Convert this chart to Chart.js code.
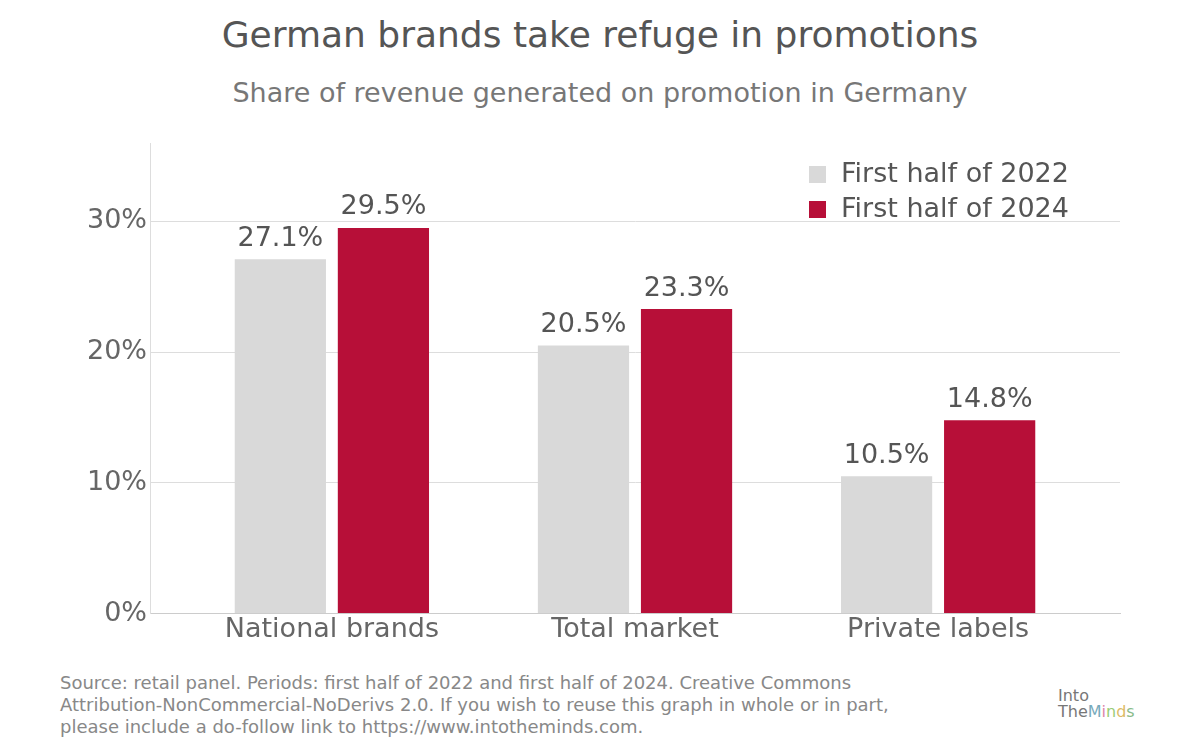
<!DOCTYPE html>
<html><head><meta charset="UTF-8">
<script src="https://cdn.jsdelivr.net/npm/chart.js@4"></script>
<style>
body{margin:0;width:1200px;height:755px;background:#fff;font-family:"DejaVu Sans",sans-serif;position:relative;overflow:hidden}
#t{position:absolute;top:14px;width:100%;text-align:center;font-size:36px;color:#555}
#s{position:absolute;top:77px;width:100%;text-align:center;font-size:27px;color:#777}
#wrap{position:absolute;left:0;top:120px;width:1200px;height:540px}
#f{position:absolute;left:60px;top:672px;font-size:18px;line-height:22px;color:#888}
#logo{position:absolute;left:1058px;top:688px;font-size:16px;line-height:16px;color:#777}
</style></head><body>
<div id="t">German brands take refuge in promotions</div>
<div id="s">Share of revenue generated on promotion in Germany</div>
<div id="wrap"><canvas id="c"></canvas></div>
<div id="f">Source: retail panel. Periods: first half of 2022 and first half of 2024. Creative Commons<br>Attribution-NonCommercial-NoDerivs 2.0. If you wish to reuse this graph in whole or in part,<br>please include a do-follow link to https://www.intotheminds.com.</div>
<div id="logo">Into<br>The<span style="color:#7ab">M</span><span style="color:#d8a">i</span><span style="color:#9c7">n</span><span style="color:#db6">d</span><span style="color:#8b8">s</span></div>
<script>
const categories = ["National brands", "Total market", "Private labels"];
const labels2022 = "First half of 2022";
const labels2024 = "First half of 2024";
const values2022 = [27.1, 20.5, 10.5];
const values2024 = [29.5, 23.3, 14.8];
const yTicks = [0, 10, 20, 30];

const valueLabels = {
  id: "valueLabels",
  afterDatasetsDraw(chart) {
    const ctx = chart.ctx;
    ctx.save();
    ctx.font = "27px 'DejaVu Sans'";
    ctx.fillStyle = "#555";
    ctx.textAlign = "center";
    ctx.textBaseline = "bottom";
    chart.data.datasets.forEach((ds, i) => {
      chart.getDatasetMeta(i).data.forEach((bar, j) => {
        ctx.fillText(ds.data[j].y.toFixed(1) + "%", bar.x, bar.y - 7);
      });
    });
    ctx.restore();
  },
};

const boxLegend = {
  id: "boxLegend",
  afterDraw(chart) {
    const ctx = chart.ctx;
    ctx.save();
    ctx.font = "27px 'DejaVu Sans'";
    ctx.textBaseline = "middle";
    chart.data.datasets.forEach((ds, i) => {
      const y = 55 + i * 35;
      ctx.fillStyle = ds.backgroundColor;
      ctx.fillRect(809, y - 9, 17, 17);
      ctx.fillStyle = "#555";
      ctx.fillText(ds.label, 841, y);
    });
    ctx.restore();
  },
};

const toPoints = (vals) => vals.map((y, i) => ({ x: i, y }));

new Chart(document.getElementById("c"), {
  type: "bar",
  data: {
    datasets: [
      { label: labels2022, data: toPoints(values2022), backgroundColor: "#d9d9d9" },
      { label: labels2024, data: toPoints(values2024), backgroundColor: "#b70f38" },
    ],
  },
  options: {
    responsive: true,
    maintainAspectRatio: false,
    animation: false,
    layout: { padding: { top: 23, left: 84, right: 80, bottom: 14 } },
    datasets: { bar: { categoryPercentage: 0.68, barPercentage: 0.885 } },
    plugins: { legend: { display: false }, tooltip: { enabled: false } },
    scales: {
      x: {
        type: "linear",
        offset: false,
        bounds: "ticks",
        min: -0.6,
        max: 2.6,
        afterBuildTicks(axis) {
          axis.ticks = categories.map((c, i) => ({ value: i }));
        },
        grid: { display: false, drawTicks: false },
        border: { color: "#ccc" },
        ticks: {
          color: "#666",
          font: { size: 27, family: "DejaVu Sans" },
          padding: 0,
          maxRotation: 0,
          callback: (v) => categories[v],
        },
      },
      y: {
        min: 0,
        max: 36,
        afterBuildTicks(axis) {
          axis.ticks = yTicks.map((v) => ({ value: v }));
        },
        grid: { color: "#ddd", drawTicks: false },
        border: { color: "#ddd" },
        ticks: {
          color: "#666",
          padding: 3,
          font: { size: 27, family: "DejaVu Sans" },
          callback: (v) => v + "%",
        },
      },
    },
  },
  plugins: [valueLabels, boxLegend],
});
</script>
</body></html>
